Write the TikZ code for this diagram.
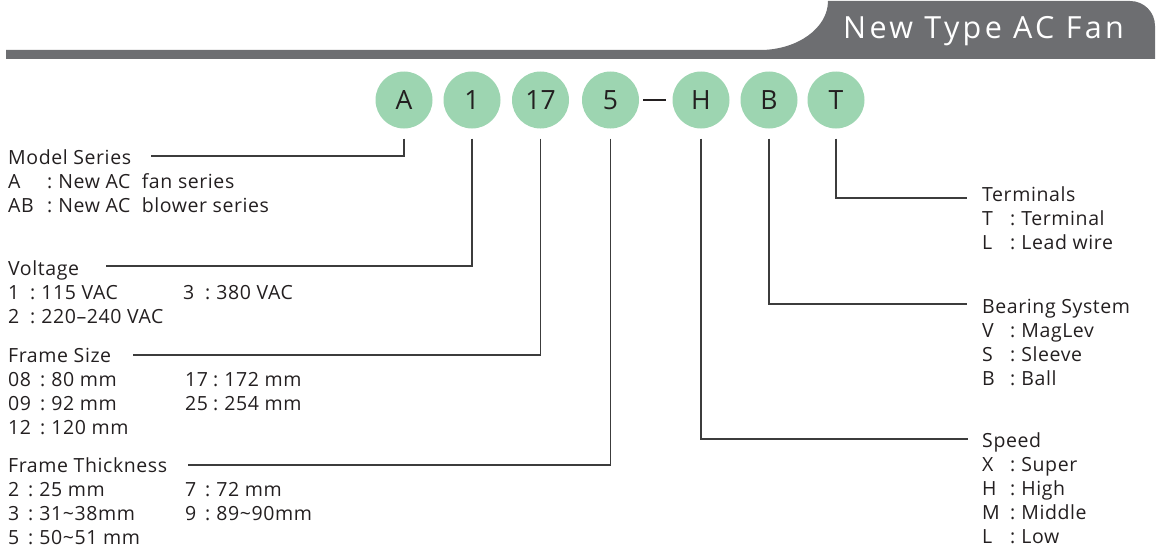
\documentclass[tikz,border=0pt]{standalone}
\usepackage{fontspec}
\setmainfont{Open Sans}
\newfontfamily\titlefont[LetterSpace=11]{Open Sans}
\newfontfamily\bodyfont[LetterSpace=3]{Open Sans}
\definecolor{tabgray}{HTML}{6D6E71}
\definecolor{circfill}{HTML}{9DD5B1}
\definecolor{txt}{HTML}{231F20}
\definecolor{linec}{HTML}{3C3C3C}
\newcommand{\kk}[2]{\makebox[#1][l]{#2}:\hspace{6pt}}
\begin{document}
\begin{tikzpicture}[x=1pt,y=-1pt,
  ln/.style={draw=linec, line width=1.2pt},
  code/.style={circle, fill=circfill, minimum size=57pt, inner sep=0pt, font=\fontsize{26.5}{30}\selectfont, text=txt},
  info/.style={anchor=base west, inner sep=0pt, font=\bodyfont\fontsize{19.5}{24}\selectfont, text=txt},
]
\useasboundingbox (0,0) rectangle (1156,551);
% header band
\fill[tabgray] (6,50) -- (760,50) .. controls (797.5,50) and (828,28) .. (828,1) -- (1130,1) .. controls (1144,1) and (1155,12) .. (1155,26) -- (1155,59) -- (6,59) -- cycle;
\node[anchor=base west, text=white, inner sep=0pt, font=\titlefont\fontsize{30.5}{34}\selectfont] (title) at (843,38.5) {New Type AC Fan};
% code circles
\node[code] (cA) at (404,100) {A};
\node[code] (c1) at (472,100) {1};
\node[code] (c17) at (540.5,100) {17};
\node[code] (c5) at (610.5,100) {5};
\node[code] (cH) at (701,100) {H};
\node[code] (cB) at (769,100) {B};
\node[code] (cT) at (836,100) {T};
\draw[draw=txt, line width=2.7pt] ([xshift=4pt]c5.east) -- ([xshift=-6.5pt]cH.west);
% line end coordinates
\coordinate (eA) at (151,156);
\coordinate (e1) at (106,266);
\coordinate (e17) at (133,355);
\coordinate (e5) at (188,465);
\coordinate (eT) at (967,198);
\coordinate (eB) at (967,304);
\coordinate (eH) at (968,439);
\draw[ln] ([yshift=-10pt]cA.south) |- (eA);
\draw[ln] ([yshift=-10pt]c1.south) |- (e1);
\draw[ln] ([yshift=-10pt]c17.south) |- (e17);
\draw[ln] ([yshift=-10pt]c5.south) |- (e5);
\draw[ln] ([yshift=-10pt]cT.south) |- (eT);
\draw[ln] ([yshift=-10pt]cB.south) |- (eB);
\draw[ln] ([yshift=-10pt]cH.south) |- (eH);
% left texts
\node[info] (model) at (8,164) {\begin{tabular}[t]{@{}l@{}}Model Series\\
\kk{39pt}{A}New AC\ \ fan series\\
\kk{39pt}{AB}New AC\ \ blower series\end{tabular}};
\node[info] (volt) at (8,275) {\begin{tabular}[t]{@{}l@{}}Voltage\\
\makebox[175pt][l]{\kk{22pt}{1}115 VAC}\kk{22pt}{3}380 VAC\\
\kk{22pt}{2}220–240 VAC\end{tabular}};
\node[info] (size) at (8,362) {\begin{tabular}[t]{@{}l@{}}Frame Size\\
\makebox[177pt][l]{\kk{32pt}{08}80 mm}\kk{28pt}{17}172 mm\\
\makebox[177pt][l]{\kk{32pt}{09}92 mm}\kk{28pt}{25}254 mm\\
\kk{32pt}{12}120 mm\end{tabular}};
\node[info] (thick) at (8,472) {\begin{tabular}[t]{@{}l@{}}Frame Thickness\\
\makebox[177pt][l]{\kk{20pt}{2}25 mm}\kk{20pt}{7}72 mm\\
\makebox[177pt][l]{\kk{20pt}{3}31\textasciitilde 38mm}\kk{20pt}{9}89\textasciitilde 90mm\\
\kk{20pt}{5}50\textasciitilde 51 mm\end{tabular}};
% right texts
\node[info] (term) at (982,201) {\begin{tabular}[t]{@{}l@{}}Terminals\\
\kk{28pt}{T}Terminal\\
\kk{28pt}{L}Lead wire\end{tabular}};
\node[info] (bear) at (982,313) {\begin{tabular}[t]{@{}l@{}}Bearing System\\
\kk{28pt}{V}MagLev\\
\kk{28pt}{S}Sleeve\\
\kk{28pt}{B}Ball\end{tabular}};
\node[info] (speed) at (982,447) {\begin{tabular}[t]{@{}l@{}}Speed\\
\kk{28pt}{X}Super\\
\kk{28pt}{H}High\\
\kk{28pt}{M}Middle\\
\kk{28pt}{L}Low\end{tabular}};
\end{tikzpicture}
\end{document}
